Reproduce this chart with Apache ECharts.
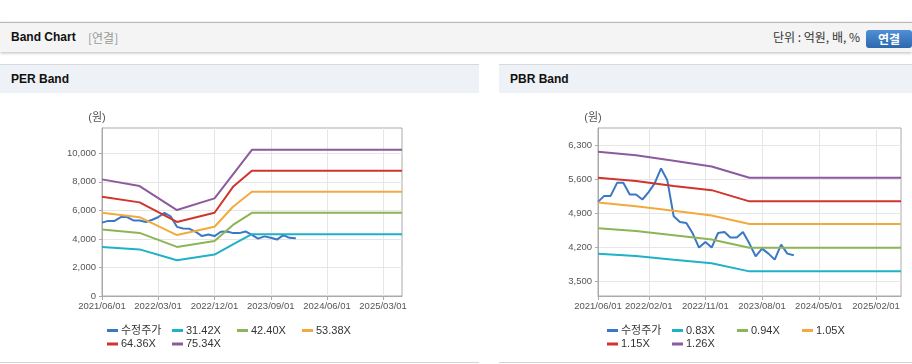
<!DOCTYPE html>
<html><head><meta charset="utf-8">
<script src="https://cdn.jsdelivr.net/npm/echarts@6/dist/echarts.min.js"></script>
<style>
html,body{margin:0;padding:0;width:912px;height:364px;overflow:hidden;background:#fff;font-family:Arial,"Liberation Sans","Noto Sans CJK KR",sans-serif;}
#hdr{position:absolute;left:0;top:22px;width:912px;height:29px;background:#f4f4f4;border-top:1px solid #b8b8b8;box-shadow:0 1px 3px rgba(0,0,0,0.28);}
#hdr .t{position:absolute;left:11px;top:7px;font-size:12px;font-weight:bold;color:#111;}
#hdr .s{position:absolute;left:88px;top:7px;font-size:12px;color:#999;font-family:"Noto Sans CJK KR",sans-serif;line-height:15px;}
#hdr .u{position:absolute;right:52px;top:6px;font-size:12px;color:#333;font-family:"Noto Sans CJK KR",sans-serif;line-height:16px;}
#hdr .b{position:absolute;left:866px;top:7px;width:46px;height:18px;border-radius:3px;background:linear-gradient(#4f8fd6,#2c68ae);color:#fff;font-weight:bold;font-size:12px;line-height:18px;text-align:center;font-family:"Noto Sans CJK KR",sans-serif;}
.ph{position:absolute;top:64px;height:28px;background:#eef2f6;border-top:1px solid #d5d9de;}
.ph span{position:absolute;left:11px;top:7px;font-size:12px;font-weight:bold;color:#111;}
.pb{position:absolute;top:362px;height:1px;background:#d4d4d4;}
#chart{position:absolute;left:0;top:0;width:912px;height:364px;}
</style></head>
<body>
<div id="hdr"><div class="t">Band Chart</div><div class="s">[연결]</div><div class="u">단위 : 억원, 배, %</div><div class="b">연결</div></div>
<div class="ph" style="left:0;width:479px;"><span>PER Band</span></div>
<div class="ph" style="left:499px;width:413px;"><span>PBR Band</span></div>
<div class="pb" style="left:0;width:479px;"></div>
<div class="pb" style="left:499px;width:413px;"></div>
<div id="chart"></div>
<script>
// ---- data ----
const priceDates = ['2021-06-01','2021-07-01','2021-08-01','2021-09-01','2021-10-01','2021-11-01','2021-12-01',
  '2022-01-01','2022-02-01','2022-03-01','2022-04-01','2022-05-01','2022-06-01','2022-07-01','2022-08-01','2022-09-01',
  '2022-10-01','2022-11-01','2022-12-01','2023-01-01','2023-02-01','2023-03-01','2023-04-01','2023-05-01','2023-06-01',
  '2023-07-01','2023-08-01','2023-09-01','2023-10-01','2023-11-01','2023-12-01','2024-01-01'];
const price = [5139,5262,5262,5530,5530,5291,5291,5188,5345,5518,5826,5586,4844,4727,4706,4488,
  4200,4315,4200,4500,4521,4406,4406,4521,4282,4021,4179,4076,3953,4262,4076,4041];

const perBandDates = ['2021-06-01','2021-12-01','2022-06-01','2022-12-01','2023-03-01','2023-06-01','2025-06-01'];
const per3142 = [3441,3265,2510,2905,3610,4330,4330];
const per4240 = [4655,4420,3440,3860,4980,5830,5830];
const per5338 = [5830,5520,4270,4850,6250,7305,7305];
const per6436 = [6960,6560,5190,5835,7650,8780,8780];
const per7534 = [8170,7700,6020,6840,8520,10240,10240];

const pbrBandDates = ['2021-06-01','2021-12-01','2022-06-01','2022-12-01','2023-06-01','2025-06-01'];
const pbr083 = [4072,4025,3950,3878,3712,3712];
const pbr094 = [4595,4540,4455,4365,4195,4195];
const pbr105 = [5125,5048,4955,4860,4685,4685];
const pbr115 = [5633,5568,5465,5380,5150,5150];
const pbr126 = [6168,6095,5983,5865,5633,5633];

const perNames = ['수정주가','31.42X','42.40X','53.38X','64.36X','75.34X'];
const pbrNames = ['수정주가','0.83X','0.94X','1.05X','1.15X','1.26X'];
const perXTicks = ['2021-06-01','2022-03-01','2022-12-01','2023-09-01','2024-06-01','2025-03-01'];
const pbrXTicks = ['2021-06-01','2022-02-01','2022-11-01','2023-08-01','2024-05-01','2025-02-01'];
const perYTicks = [0,2000,4000,6000,8000,10000];
const pbrYTicks = [3500,4200,4900,5600,6300];
const xStart = '2021-06-01', xEnd = '2025-06-01';

// ---- style ----
const colors = ['#3a78c6','#1fb1c6','#8db457','#f2aa3e','#d1342c','#8b5b9d'];
const FONT = 'Arial, "Liberation Sans", "Noto Sans CJK KR", sans-serif';
const ts = s => { const p = s.split('-').map(Number); return new Date(p[0], p[1] - 1, p[2]).getTime(); };
const pad = n => (n < 10 ? '0' : '') + n;
const fmtDate = v => { const d = new Date(v); return d.getFullYear() + '/' + pad(d.getMonth() + 1) + '/' + pad(d.getDate()); };
const pairs = (dates, vals) => dates.map((d, i) => [ts(d), vals[i]]);

const grids = [
  {left: 102, top: 128, width: 300, height: 168},
  {left: 598, top: 128, width: 303, height: 168}
];
const yRange = [[0, 11770], [3206, 6656]];

function xAxis(gi, ticks) {
  return {
    type: 'value', gridIndex: gi, min: ts(xStart), max: ts(xEnd),
    axisLine: {show: true, lineStyle: {color: '#aaa', width: 1}},
    axisTick: {show: true, length: 4, lineStyle: {color: '#aaa'}, customValues: ticks.map(ts)},
    axisLabel: {color: '#555', fontSize: 9.5, fontFamily: FONT, margin: 6, customValues: ticks.map(ts), formatter: v => fmtDate(v), hideOverlap: false},
    splitLine: {show: true, lineStyle: {color: '#e6e6e6', width: 1}}
  };
}
function yAxis(gi, ticks, range) {
  return {
    type: 'value', gridIndex: gi, min: range[0], max: range[1],
    name: '(원)', nameLocation: 'end', nameGap: 5,
    nameTextStyle: {color: '#555', fontSize: 11, fontFamily: FONT, align: 'center', padding: [0, 10, 0, 0]},
    axisLine: {show: true, lineStyle: {color: '#aaa', width: 1}},
    axisTick: {show: true, length: 3, lineStyle: {color: '#aaa'}, customValues: ticks},
    axisLabel: {color: '#555', fontSize: 9.5, fontFamily: FONT, margin: 6, customValues: ticks,
      formatter: v => Number(v).toLocaleString('en-US')},
    splitLine: {show: true, lineStyle: {color: '#e6e6e6', width: 1}}
  };
}
function line(name, data, gi, color) {
  return {
    type: 'line', name: name, xAxisIndex: gi, yAxisIndex: gi, data: data,
    showSymbol: false, symbol: 'none', smooth: false, color: color,
    lineStyle: {width: 2, color: color}, itemStyle: {color: color}, emphasis: {disabled: true}
  };
}

const series = [
  line(perNames[0], pairs(priceDates, price), 0, colors[0]),
  line(perNames[1], pairs(perBandDates, per3142), 0, colors[1]),
  line(perNames[2], pairs(perBandDates, per4240), 0, colors[2]),
  line(perNames[3], pairs(perBandDates, per5338), 0, colors[3]),
  line(perNames[4], pairs(perBandDates, per6436), 0, colors[4]),
  line(perNames[5], pairs(perBandDates, per7534), 0, colors[5]),
  line(pbrNames[0], pairs(priceDates, price), 1, colors[0]),
  line(pbrNames[1], pairs(pbrBandDates, pbr083), 1, colors[1]),
  line(pbrNames[2], pairs(pbrBandDates, pbr094), 1, colors[2]),
  line(pbrNames[3], pairs(pbrBandDates, pbr105), 1, colors[3]),
  line(pbrNames[4], pairs(pbrBandDates, pbr115), 1, colors[4]),
  line(pbrNames[5], pairs(pbrBandDates, pbr126), 1, colors[5])
];

const legendSlots = [[0,0],[65,0],[130,0],[195,0],[0,13.5],[65,13.5]];
const legends = [];
[[perNames, 107], [pbrNames, 607]].forEach(([names, x0]) => {
  names.forEach((n, i) => {
    legends.push({
      data: [n], left: x0 + legendSlots[i][0], top: 325 + legendSlots[i][1],
      icon: 'rect', itemWidth: 11, itemHeight: 3, padding: 0, selectedMode: false,
      textStyle: {color: '#333', fontSize: 11, fontFamily: FONT, padding: [0, 0, 0, -2]}
    });
  });
});

const chart = echarts.init(document.getElementById('chart'), null, {renderer: 'canvas'});
chart.setOption({
  animation: false,
  grid: grids.map(g => Object.assign({show: true, borderColor: '#aaa', borderWidth: 1, backgroundColor: 'transparent', containLabel: false, outerBoundsMode: 'none'}, g)),
  xAxis: [xAxis(0, perXTicks), xAxis(1, pbrXTicks)],
  yAxis: [yAxis(0, perYTicks, yRange[0]), yAxis(1, pbrYTicks, yRange[1])],
  legend: legends,
  series: series
});
</script>
</body></html>
